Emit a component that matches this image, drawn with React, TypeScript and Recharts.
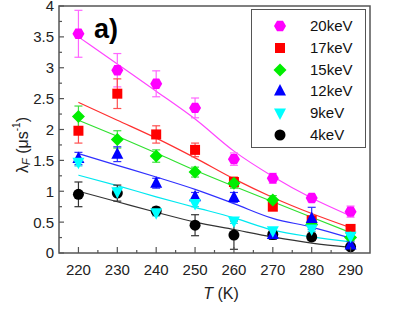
import React from "react";
import {
  ComposedChart,
  Line,
  Scatter,
  ErrorBar,
  XAxis,
  YAxis,
  ReferenceArea,
  Label,
} from "recharts";

// temperatures (K)
const temps = [220, 230, 240, 250, 260, 270, 280, 290];
const xTicks = [220, 225, 230, 235, 240, 245, 250, 255, 260, 265, 270, 275, 280, 285, 290];
const yTicks = [0, 0.25, 0.5, 0.75, 1, 1.25, 1.5, 1.75, 2, 2.25, 2.5, 2.75, 3, 3.25, 3.5, 3.75, 4];

// measured lambda_F (us^-1), errors and fitted curves per implantation energy
const val20 = [3.55, 2.96, 2.74, 2.35, 1.52, 1.21, 0.89, 0.67];
const err20 = [0.38, 0.27, 0.21, 0.16, 0.1, 0.08, 0.06, 0.09];
const fit20 = [3.5, 3.06, 2.62, 2.17, 1.65, 1.24, 0.89, 0.6];

const val17 = [1.98, 2.58, 1.92, 1.67, 1.15, 0.75, 0.53, 0.39];
const err17 = [0.2, 0.24, 0.14, 0.11, 0.08, 0.06, 0.06, 0.05];
const fit17 = [2.44, 2.15, 1.86, 1.54, 1.2, 0.9, 0.64, 0.41];

const val15 = [2.21, 1.84, 1.57, 1.31, 1.13, 0.86, 0.46, 0.25];
const err15 = [0.17, 0.14, 0.1, 0.08, 0.08, 0.07, 0.05, 0.05];
const fit15 = [2.15, 1.89, 1.62, 1.34, 1.08, 0.83, 0.58, 0.33];

const val12 = [1.53, 1.6, 1.13, 0.91, 0.9, 0.3, 0.56, 0.13];
const err12 = [0.1, 0.12, 0.08, 0.07, 0.08, 0.06, 0.18, 0.05];
const fit12 = [1.61, 1.42, 1.23, 1.03, 0.8, 0.56, 0.42, 0.24];

const val9 = [1.47, 0.99, 0.65, 0.8, 0.52, 0.36, 0.39, 0.27];
const err9 = [0.06, 0.06, 0.05, 0.05, 0.04, 0.04, 0.04, 0.04];
const fit9 = [1.26, 1.09, 0.91, 0.74, 0.57, 0.37, 0.26, 0.18];

const val4 = [0.95, 0.97, 0.68, 0.45, 0.29, 0.3, 0.26, 0.1];
const err4 = [0.2, 0.13, 0.06, 0.17, 0.23, 0.08, 0.06, 0.04];
const fit4 = [1.0, 0.83, 0.66, 0.5, 0.38, 0.26, 0.16, 0.09];

type Kind = "hexagon" | "square" | "diamond" | "triangle" | "triangleDown" | "circle";

const series = [
  { id: "20", label: "20keV", kind: "hexagon" as Kind, color: "#ff00ff", fitColor: "#ff44ff", errColor: "#ff66ff", vals: val20, errs: err20, fits: fit20 },
  { id: "17", label: "17keV", kind: "square" as Kind, color: "#ff0000", fitColor: "#ff3030", errColor: "#ff5050", vals: val17, errs: err17, fits: fit17 },
  { id: "15", label: "15keV", kind: "diamond" as Kind, color: "#00ee00", fitColor: "#30e030", errColor: "#40dd40", vals: val15, errs: err15, fits: fit15 },
  { id: "12", label: "12keV", kind: "triangle" as Kind, color: "#0000ff", fitColor: "#3030ff", errColor: "#3030ff", vals: val12, errs: err12, fits: fit12 },
  { id: "9", label: "9keV", kind: "triangleDown" as Kind, color: "#00ffff", fitColor: "#00e8f0", errColor: "#20d8e0", vals: val9, errs: err9, fits: fit9 },
  { id: "4", label: "4keV", kind: "circle" as Kind, color: "#000000", fitColor: "#333333", errColor: "#333333", vals: val4, errs: err4, fits: fit4 },
];

// black points sit underneath the others in the original
const drawOrder = [series[5], ...series.slice(0, 5)];

const rows = temps.map((T, i) => {
  const r: Record<string, number> = { T };
  series.forEach((s) => {
    r["v" + s.id] = s.vals[i];
    r["e" + s.id] = s.errs[i];
    r["f" + s.id] = s.fits[i];
  });
  return r;
});

const FONT = "'Liberation Sans', Arial, Helvetica, sans-serif";
const AXIS = "#555";

function Marker({ kind, cx, cy, color }: { kind: Kind; cx: number; cy: number; color: string }) {
  if (cx == null || cy == null) return null;
  switch (kind) {
    case "hexagon": {
      const r = 6;
      const pts = [0, 60, 120, 180, 240, 300]
        .map((a) => `${cx + r * Math.cos((a * Math.PI) / 180)},${cy + r * Math.sin((a * Math.PI) / 180)}`)
        .join(" ");
      return <polygon points={pts} fill={color} />;
    }
    case "square":
      return <rect x={cx - 5} y={cy - 5} width={10} height={10} fill={color} />;
    case "diamond":
      return <polygon points={`${cx},${cy - 6.5} ${cx + 6.5},${cy} ${cx},${cy + 6.5} ${cx - 6.5},${cy}`} fill={color} />;
    case "triangle":
      return <polygon points={`${cx},${cy - 7} ${cx + 6},${cy + 4.5} ${cx - 6},${cy + 4.5}`} fill={color} />;
    case "triangleDown":
      return <polygon points={`${cx},${cy + 7} ${cx + 6},${cy - 4.5} ${cx - 6},${cy - 4.5}`} fill={color} />;
    default:
      return <circle cx={cx} cy={cy} r={5.5} fill={color} />;
  }
}

function YTick(props: any) {
  const { x, y, payload } = props;
  const v = payload.value as number;
  const major = Math.abs(v * 2 - Math.round(v * 2)) < 1e-6;
  const x0 = x + 5;
  return (
    <g>
      <line x1={x0} x2={x0 + (major ? 5 : 3)} y1={y} y2={y} stroke={AXIS} strokeWidth={1.2} />
      {major && (
        <text x={x} y={y} dy="0.36em" textAnchor="end" fontSize={15} fontFamily={FONT} fill="#222">
          {v}
        </text>
      )}
    </g>
  );
}

function XTick(props: any) {
  const { x, y, payload } = props;
  const v = payload.value as number;
  const major = v % 10 === 0;
  const y0 = y - 11;
  return (
    <g>
      <line x1={x} x2={x} y1={y0} y2={y0 - (major ? 6 : 3)} stroke={AXIS} strokeWidth={1.2} />
      {major && (
        <text x={x} y={y} dy="0.72em" textAnchor="middle" fontSize={15} fontFamily={FONT} fill="#222">
          {v}
        </text>
      )}
    </g>
  );
}

function YLabel() {
  const cx = 22;
  const cy = 145;
  return (
    <text
      x={cx}
      y={cy}
      transform={`rotate(-90, ${cx}, ${cy})`}
      textAnchor="middle"
      dominantBaseline="central"
      fontSize={16}
      fontFamily={FONT}
      fill="#222"
    >
      λ
      <tspan fontStyle="italic" fontSize={11} dy={4}>F</tspan>
      <tspan dy={-4}> (μs</tspan>
      <tspan fontSize={10} dy={-6}>-1</tspan>
      <tspan dy={6}>)</tspan>
    </text>
  );
}

function XLabel() {
  return (
    <text x={221} y={299} textAnchor="middle" fontSize={16} fontFamily={FONT} fill="#222">
      <tspan fontStyle="italic">T</tspan> (K)
    </text>
  );
}

function LegendBox() {
  return (
    <div
      style={{
        position: "absolute",
        left: 251,
        top: 9,
        width: 113,
        height: 137,
        border: `1.5px solid ${AXIS}`,
        background: "#fff",
        fontFamily: FONT,
        fontSize: 15,
        color: "#111",
      }}
    >
      {series.map((s, i) => (
        <div
          key={s.id}
          style={{ position: "absolute", left: 0, top: 6 + i * 21.8, height: 20, display: "flex", alignItems: "center" }}
        >
          <svg width={58} height={20} style={{ display: "block" }}>
            <Marker kind={s.kind} cx={28} cy={10} color={s.color} />
          </svg>
          <span style={{ lineHeight: "20px" }}>{s.label}</span>
        </div>
      ))}
    </div>
  );
}

export default function App() {
  return (
    <div style={{ position: "absolute", left: 0, top: 0, width: 407, height: 309, background: "#fff" }}>
      <ComposedChart
        width={407}
        height={309}
        data={rows}
        margin={{ top: 6, right: 37, bottom: 0, left: 0 }}
      >
        <XAxis
          dataKey="T"
          type="number"
          domain={[215, 295]}
          ticks={xTicks}
          interval={0}
          height={56}
          tickSize={0}
          tickMargin={11}
          axisLine={false}
          tickLine={false}
          tick={<XTick />}
        >
          <Label content={<XLabel />} />
        </XAxis>
        <YAxis
          type="number"
          domain={[0, 4]}
          ticks={yTicks}
          interval={0}
          width={59}
          tickSize={0}
          tickMargin={5}
          axisLine={false}
          tickLine={false}
          tick={<YTick />}
        >
          <Label content={<YLabel />} />
        </YAxis>
        <ReferenceArea x1={215} x2={295} y1={0} y2={4} fill="none" stroke={AXIS} strokeWidth={1.5} />
        {drawOrder.map((s) => (
          <Line
            key={"f" + s.id}
            type="monotone"
            dataKey={"f" + s.id}
            stroke={s.fitColor}
            strokeWidth={1.2}
            dot={false}
            activeDot={false}
            isAnimationActive={false}
          />
        ))}
        {drawOrder.map((s) => (
          <Scatter
            key={"v" + s.id}
            dataKey={"v" + s.id}
            isAnimationActive={false}
            shape={(p: any) => <Marker kind={s.kind} cx={p.cx} cy={p.cy} color={s.color} />}
          >
            <ErrorBar dataKey={"e" + s.id} direction="y" width={4} stroke={s.errColor} strokeWidth={1.2} />
          </Scatter>
        ))}
      </ComposedChart>
      <div
        style={{
          position: "absolute",
          left: 94,
          top: 14,
          fontFamily: FONT,
          fontWeight: "bold",
          fontSize: 27,
          color: "#000",
        }}
      >
        a)
      </div>
      <LegendBox />
    </div>
  );
}
